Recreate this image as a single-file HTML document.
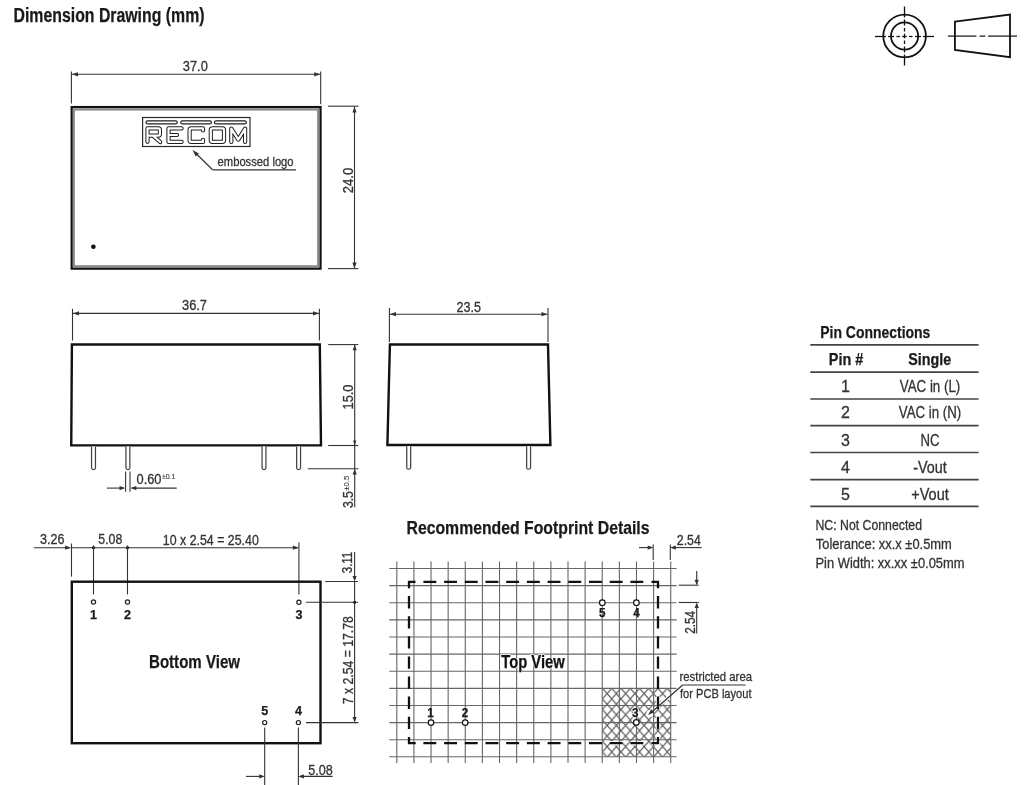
<!DOCTYPE html>
<html><head><meta charset="utf-8"><style>
html,body{margin:0;padding:0;background:#fff;}
body{width:1024px;height:785px;overflow:hidden;}
svg{display:block;will-change:transform;font-family:"Liberation Sans",sans-serif;}
</style></head><body>
<svg width="1024" height="785" viewBox="0 0 1024 785">
<text x="13.5" y="21.5" font-size="20" font-weight="bold" fill="#1a1a1a" text-anchor="start" textLength="191" lengthAdjust="spacingAndGlyphs"  stroke="#1a1a1a" stroke-width="0.25">Dimension Drawing (mm)</text>
<g stroke="#111" fill="none">
<circle cx="904.6" cy="36" r="21.3" stroke-width="1.8"/>
<circle cx="904.6" cy="36" r="13.6" stroke-width="1.8"/>
<line x1="904.5" y1="54.5" x2="904.5" y2="65.5" stroke-width="1.3"/>
<line x1="923.0" y1="36.5" x2="934.0" y2="36.5" stroke-width="1.3"/>
<line x1="904.5" y1="46.5" x2="904.5" y2="52.5" stroke-width="1.3"/>
<line x1="915.0" y1="36.5" x2="921.0" y2="36.5" stroke-width="1.3"/>
<line x1="904.5" y1="40.5" x2="904.5" y2="44" stroke-width="1.3"/>
<line x1="909.0" y1="36.5" x2="912.5" y2="36.5" stroke-width="1.3"/>
<line x1="904.5" y1="33.7" x2="904.5" y2="38.3" stroke-width="1.3"/>
<line x1="902.2" y1="36.5" x2="906.8" y2="36.5" stroke-width="1.3"/>
<line x1="904.5" y1="28" x2="904.5" y2="31.5" stroke-width="1.3"/>
<line x1="896.5" y1="36.5" x2="900.0" y2="36.5" stroke-width="1.3"/>
<line x1="904.5" y1="19.5" x2="904.5" y2="25.5" stroke-width="1.3"/>
<line x1="888.0" y1="36.5" x2="894.0" y2="36.5" stroke-width="1.3"/>
<line x1="904.5" y1="6.5" x2="904.5" y2="17.5" stroke-width="1.3"/>
<line x1="875.0" y1="36.5" x2="886.0" y2="36.5" stroke-width="1.3"/>
<polygon points="954.9,21.6 1010,14.5 1010,57.2 954.9,49.9" stroke-width="1.8" stroke-linejoin="miter"/>
<line x1="947.9" y1="36.1" x2="976.4" y2="36.1" stroke-width="1.2"/>
<line x1="979.5" y1="36.1" x2="985.4" y2="36.1" stroke-width="1.2"/>
<line x1="988.1" y1="36.1" x2="1017" y2="36.1" stroke-width="1.2"/>
</g>
<line x1="71.4" y1="71.4" x2="71.4" y2="103.6" stroke="#333" stroke-width="1.1" />
<line x1="320.7" y1="71.4" x2="320.7" y2="104.2" stroke="#333" stroke-width="1.1" />
<line x1="72" y1="74.3" x2="320.2" y2="74.3" stroke="#333" stroke-width="1.1" />
<polygon points="72.00,74.30 78.00,72.20 78.00,76.40" fill="#333"/>
<polygon points="320.20,74.30 314.20,76.40 314.20,72.20" fill="#333"/>
<text x="195.3" y="71.4" font-size="14.5" font-weight="normal" fill="#333" text-anchor="middle" textLength="25" lengthAdjust="spacingAndGlyphs"  stroke="#333" stroke-width="0.3">37.0</text>
<rect x="71.7" y="107.1" width="248.8" height="161.5" fill="none" stroke="#111" stroke-width="2.3"/>
<rect x="73.8" y="109.5" width="244.4" height="156.8" fill="none" stroke="#8a8a8a" stroke-width="2.2"/>
<line x1="328" y1="106.2" x2="358.4" y2="106.2" stroke="#333" stroke-width="1.1" />
<line x1="328" y1="268.6" x2="358.4" y2="268.6" stroke="#333" stroke-width="1.1" />
<line x1="354.5" y1="106.5" x2="354.5" y2="268.4" stroke="#333" stroke-width="1.1" />
<polygon points="354.50,106.50 356.60,112.50 352.40,112.50" fill="#333"/>
<polygon points="354.50,268.40 352.40,262.40 356.60,262.40" fill="#333"/>
<text transform="translate(352.6,180.5) rotate(-90)" x="0" y="0" font-size="14.5" font-weight="normal" fill="#333" text-anchor="middle" textLength="25.5" lengthAdjust="spacingAndGlyphs"  stroke="#333" stroke-width="0.3">24.0</text>
<g fill="none" stroke="#1e1e1e">
<rect x="142.6" y="117.5" width="107.4" height="29" stroke-width="1.2" stroke="#2a2a2a"/>
<line x1="147.5" y1="122.4" x2="175.7" y2="122.4" stroke-width="4.2" stroke-linecap="round"/>
<line x1="147.5" y1="122.4" x2="175.7" y2="122.4" stroke-width="1.9" stroke="#fff" stroke-linecap="round"/>
<line x1="182.3" y1="122.4" x2="209.8" y2="122.4" stroke-width="4.2" stroke-linecap="round"/>
<line x1="182.3" y1="122.4" x2="209.8" y2="122.4" stroke-width="1.9" stroke="#fff" stroke-linecap="round"/>
<line x1="216" y1="122.4" x2="244.8" y2="122.4" stroke-width="4.2" stroke-linecap="round"/>
<line x1="216" y1="122.4" x2="244.8" y2="122.4" stroke-width="1.9" stroke="#fff" stroke-linecap="round"/>
<path d="M147.5,141.8 L147.5,128.4 L158.3,128.4 Q159.9,128.4 159.9,130 L159.9,134.1 Q159.9,135.7 158.3,135.7 L147.5,135.7 M153.2,135.9 L160.2,142" stroke-width="4.2" stroke-linecap="round" stroke-linejoin="round"/>
<path d="M181.6,128.4 L168.5,128.4 L168.5,141.9 L181.6,141.9 M168.5,135 L177,135" stroke-width="4.2" stroke-linecap="round" stroke-linejoin="round"/>
<path d="M203,130.5 L203,128.4 L191.2,128.4 Q189.6,128.4 189.6,130 L189.6,140.3 Q189.6,141.9 191.2,141.9 L203,141.9 L203,139.8" stroke-width="4.2" stroke-linecap="round" stroke-linejoin="round"/>
<path d="M212.4,128.4 L222.4,128.4 Q224,128.4 224,130 L224,140.3 Q224,141.9 222.4,141.9 L212.4,141.9 Q210.8,141.9 210.8,140.3 L210.8,130 Q210.8,128.4 212.4,128.4 Z" stroke-width="4.2" stroke-linecap="round" stroke-linejoin="round"/>
<path d="M231.3,141.9 L231.3,128.6 L238.3,139.6 L245.1,128.6 L245.1,141.9" stroke-width="4.2" stroke-linecap="round" stroke-linejoin="round"/>
<path d="M147.5,141.8 L147.5,128.4 L158.3,128.4 Q159.9,128.4 159.9,130 L159.9,134.1 Q159.9,135.7 158.3,135.7 L147.5,135.7 M153.2,135.9 L160.2,142" stroke-width="2.2" stroke="#fff" stroke-linecap="round" stroke-linejoin="round"/>
<path d="M181.6,128.4 L168.5,128.4 L168.5,141.9 L181.6,141.9 M168.5,135 L177,135" stroke-width="2.2" stroke="#fff" stroke-linecap="round" stroke-linejoin="round"/>
<path d="M203,130.5 L203,128.4 L191.2,128.4 Q189.6,128.4 189.6,130 L189.6,140.3 Q189.6,141.9 191.2,141.9 L203,141.9 L203,139.8" stroke-width="2.2" stroke="#fff" stroke-linecap="round" stroke-linejoin="round"/>
<path d="M212.4,128.4 L222.4,128.4 Q224,128.4 224,130 L224,140.3 Q224,141.9 222.4,141.9 L212.4,141.9 Q210.8,141.9 210.8,140.3 L210.8,130 Q210.8,128.4 212.4,128.4 Z" stroke-width="2.2" stroke="#fff" stroke-linecap="round" stroke-linejoin="round"/>
<path d="M231.3,141.9 L231.3,128.6 L238.3,139.6 L245.1,128.6 L245.1,141.9" stroke-width="2.2" stroke="#fff" stroke-linecap="round" stroke-linejoin="round"/>
</g>
<text x="217.6" y="166.1" font-size="13.2" font-weight="normal" fill="#333" text-anchor="start" textLength="76" lengthAdjust="spacingAndGlyphs"  stroke="#333" stroke-width="0.3">embossed logo</text>
<line x1="212.6" y1="169.8" x2="296" y2="169.8" stroke="#333" stroke-width="1.2" />
<line x1="212.6" y1="169.8" x2="195.5" y2="153" stroke="#333" stroke-width="1.2" />
<polygon points="192.40,150.00 198.91,153.39 195.79,156.51" fill="#333"/>
<circle cx="93.4" cy="246.7" r="2.3" fill="#111"/>
<line x1="72.5" y1="308.75" x2="72.5" y2="340.6" stroke="#333" stroke-width="1.1" />
<line x1="319.4" y1="308.75" x2="319.4" y2="340.6" stroke="#333" stroke-width="1.1" />
<line x1="73" y1="313.4" x2="319" y2="313.4" stroke="#333" stroke-width="1.1" />
<polygon points="73.00,313.40 79.00,311.30 79.00,315.50" fill="#333"/>
<polygon points="319.00,313.40 313.00,315.50 313.00,311.30" fill="#333"/>
<text x="194.5" y="310.3" font-size="14.5" font-weight="normal" fill="#333" text-anchor="middle" textLength="25" lengthAdjust="spacingAndGlyphs"  stroke="#333" stroke-width="0.3">36.7</text>
<polygon points="71.9,344.5 319.8,344.5 321,445.4 71.25,445.4" fill="none" stroke="#111" stroke-width="2.4"/>
<path d="M91.55,446.6 L91.55,468.0 Q91.55,469.5 93.5,469.5 Q95.45,469.5 95.45,468.0 L95.45,446.6" fill="#fff" stroke="#444" stroke-width="1.25"/>
<path d="M125.95,446.6 L125.95,468.0 Q125.95,469.5 127.9,469.5 Q129.85,469.5 129.85,468.0 L129.85,446.6" fill="#fff" stroke="#444" stroke-width="1.25"/>
<path d="M262.05,446.6 L262.05,468.0 Q262.05,469.5 264,469.5 Q265.95,469.5 265.95,468.0 L265.95,446.6" fill="#fff" stroke="#444" stroke-width="1.25"/>
<path d="M296.65000000000003,446.6 L296.65000000000003,468.0 Q296.65000000000003,469.5 298.6,469.5 Q300.55,469.5 300.55,468.0 L300.55,446.6" fill="#fff" stroke="#444" stroke-width="1.25"/>
<line x1="328.2" y1="344.6" x2="358.2" y2="344.6" stroke="#333" stroke-width="1.1" />
<line x1="328.2" y1="445.5" x2="358.2" y2="445.5" stroke="#333" stroke-width="1.1" />
<line x1="307.8" y1="468.8" x2="358.2" y2="468.8" stroke="#333" stroke-width="1.1" />
<line x1="354.7" y1="345" x2="354.7" y2="507.3" stroke="#333" stroke-width="1.1" />
<polygon points="354.70,344.80 356.80,350.30 352.60,350.30" fill="#333"/>
<polygon points="354.70,445.50 353.10,440.50 356.30,440.50" fill="#333"/>
<polygon points="354.70,469.00 356.80,474.50 352.60,474.50" fill="#333"/>
<text transform="translate(352.8,397) rotate(-90)" x="0" y="0" font-size="14.5" font-weight="normal" fill="#333" text-anchor="middle" textLength="25" lengthAdjust="spacingAndGlyphs"  stroke="#333" stroke-width="0.3">15.0</text>
<text transform="translate(353,499.6) rotate(-90)" x="0" y="0" font-size="14.5" font-weight="normal" fill="#333" text-anchor="middle" textLength="17" lengthAdjust="spacingAndGlyphs"  stroke="#333" stroke-width="0.3">3.5</text>
<text transform="translate(348.6,483.3) rotate(-90)" x="0" y="0" font-size="7" font-weight="normal" fill="#333" text-anchor="middle" textLength="15" lengthAdjust="spacingAndGlyphs"  stroke="#333" stroke-width="0.1">±0.5</text>
<line x1="125.6" y1="471.5" x2="125.6" y2="491.7" stroke="#333" stroke-width="1.1" />
<line x1="130" y1="471.5" x2="130" y2="491.7" stroke="#333" stroke-width="1.1" />
<line x1="106.9" y1="488.1" x2="124" y2="488.1" stroke="#333" stroke-width="1.1" />
<polygon points="125.00,488.10 119.50,490.20 119.50,486.00" fill="#333"/>
<line x1="131.5" y1="488.1" x2="176.7" y2="488.1" stroke="#333" stroke-width="1.1" />
<polygon points="130.80,488.10 136.30,486.00 136.30,490.20" fill="#333"/>
<text x="136.5" y="484.2" font-size="14.5" font-weight="normal" fill="#333" text-anchor="start" textLength="25" lengthAdjust="spacingAndGlyphs"  stroke="#333" stroke-width="0.3">0.60</text>
<text x="162" y="479.3" font-size="7" font-weight="normal" fill="#333" text-anchor="start" textLength="13.5" lengthAdjust="spacingAndGlyphs"  stroke="#333" stroke-width="0.1">±0.1</text>
<line x1="389.4" y1="308" x2="389.4" y2="342" stroke="#333" stroke-width="1.1" />
<line x1="548" y1="308" x2="548" y2="342" stroke="#333" stroke-width="1.1" />
<line x1="390" y1="314.2" x2="547.5" y2="314.2" stroke="#333" stroke-width="1.1" />
<polygon points="390.00,314.20 396.00,312.10 396.00,316.30" fill="#333"/>
<polygon points="547.50,314.20 541.50,316.30 541.50,312.10" fill="#333"/>
<text x="468.7" y="311.8" font-size="14.5" font-weight="normal" fill="#333" text-anchor="middle" textLength="24.5" lengthAdjust="spacingAndGlyphs"  stroke="#333" stroke-width="0.3">23.5</text>
<polygon points="389.9,344.5 548,344.5 550.4,445 387.4,445" fill="none" stroke="#111" stroke-width="2.4"/>
<path d="M406.75,446.2 L406.75,467.7 Q406.75,469.2 408.7,469.2 Q410.65,469.2 410.65,467.7 L410.65,446.2" fill="#fff" stroke="#444" stroke-width="1.25"/>
<path d="M526.65,446.2 L526.65,467.7 Q526.65,469.2 528.6,469.2 Q530.5500000000001,469.2 530.5500000000001,467.7 L530.5500000000001,446.2" fill="#fff" stroke="#444" stroke-width="1.25"/>
<text x="820.3" y="337.6" font-size="17" font-weight="bold" fill="#1a1a1a" text-anchor="start" textLength="110" lengthAdjust="spacingAndGlyphs"  stroke="#1a1a1a" stroke-width="0.25">Pin Connections</text>
<line x1="810.3" y1="344.9" x2="978.6" y2="344.9" stroke="#444" stroke-width="1.7" />
<line x1="810.3" y1="372.1" x2="978.6" y2="372.1" stroke="#444" stroke-width="1.7" />
<line x1="810.3" y1="399" x2="978.6" y2="399" stroke="#444" stroke-width="1.7" />
<line x1="810.3" y1="425.7" x2="978.6" y2="425.7" stroke="#444" stroke-width="1.7" />
<line x1="810.3" y1="452.5" x2="978.6" y2="452.5" stroke="#444" stroke-width="1.7" />
<line x1="810.3" y1="479.7" x2="978.6" y2="479.7" stroke="#444" stroke-width="1.7" />
<line x1="810.3" y1="506.4" x2="978.6" y2="506.4" stroke="#444" stroke-width="1.7" />
<text x="846" y="365.1" font-size="16.5" font-weight="bold" fill="#1a1a1a" text-anchor="middle" textLength="34.5" lengthAdjust="spacingAndGlyphs"  stroke="#1a1a1a" stroke-width="0.25">Pin #</text>
<text x="929.8" y="365.1" font-size="16.5" font-weight="bold" fill="#1a1a1a" text-anchor="middle" textLength="43" lengthAdjust="spacingAndGlyphs"  stroke="#1a1a1a" stroke-width="0.25">Single</text>
<text x="845.5" y="391.5" font-size="16" font-weight="normal" fill="#333" text-anchor="middle"  stroke="#333" stroke-width="0.3">1</text>
<text x="930" y="391.5" font-size="16" font-weight="normal" fill="#333" text-anchor="middle" textLength="60.5" lengthAdjust="spacingAndGlyphs"  stroke="#333" stroke-width="0.3">VAC in (L)</text>
<text x="845.5" y="418.4" font-size="16" font-weight="normal" fill="#333" text-anchor="middle"  stroke="#333" stroke-width="0.3">2</text>
<text x="930" y="418.4" font-size="16" font-weight="normal" fill="#333" text-anchor="middle" textLength="62.5" lengthAdjust="spacingAndGlyphs"  stroke="#333" stroke-width="0.3">VAC in (N)</text>
<text x="845.5" y="446.2" font-size="16" font-weight="normal" fill="#333" text-anchor="middle"  stroke="#333" stroke-width="0.3">3</text>
<text x="930" y="446.2" font-size="16" font-weight="normal" fill="#333" text-anchor="middle" textLength="19" lengthAdjust="spacingAndGlyphs"  stroke="#333" stroke-width="0.3">NC</text>
<text x="845.5" y="473" font-size="16" font-weight="normal" fill="#333" text-anchor="middle"  stroke="#333" stroke-width="0.3">4</text>
<text x="930" y="473" font-size="16" font-weight="normal" fill="#333" text-anchor="middle" textLength="33.5" lengthAdjust="spacingAndGlyphs"  stroke="#333" stroke-width="0.3">-Vout</text>
<text x="845.5" y="499.7" font-size="16" font-weight="normal" fill="#333" text-anchor="middle"  stroke="#333" stroke-width="0.3">5</text>
<text x="930" y="499.7" font-size="16" font-weight="normal" fill="#333" text-anchor="middle" textLength="37.5" lengthAdjust="spacingAndGlyphs"  stroke="#333" stroke-width="0.3">+Vout</text>
<text x="815.5" y="530.3" font-size="14.5" font-weight="normal" fill="#333" text-anchor="start" textLength="106.5" lengthAdjust="spacingAndGlyphs"  stroke="#333" stroke-width="0.3">NC: Not Connected</text>
<text x="815.8" y="549.4" font-size="14.5" font-weight="normal" fill="#333" text-anchor="start" textLength="136" lengthAdjust="spacingAndGlyphs"  stroke="#333" stroke-width="0.3">Tolerance: xx.x ±0.5mm</text>
<text x="815.5" y="567.6" font-size="14.5" font-weight="normal" fill="#333" text-anchor="start" textLength="149" lengthAdjust="spacingAndGlyphs"  stroke="#333" stroke-width="0.3">Pin Width: xx.xx ±0.05mm</text>
<line x1="33.9" y1="547.7" x2="70" y2="547.7" stroke="#333" stroke-width="1.1" />
<polygon points="71.10,547.70 65.10,549.80 65.10,545.60" fill="#333"/>
<line x1="71.5" y1="547.7" x2="298" y2="547.7" stroke="#333" stroke-width="1.1" />
<polygon points="298.90,547.70 292.90,549.80 292.90,545.60" fill="#333"/>
<circle cx="93.5" cy="547.7" r="1.6" fill="#222"/>
<circle cx="127.5" cy="547.7" r="1.6" fill="#222"/>
<line x1="71.5" y1="543.5" x2="71.5" y2="576.6" stroke="#333" stroke-width="1.1" />
<line x1="93.5" y1="545.4" x2="93.5" y2="594.4" stroke="#333" stroke-width="1.1" />
<line x1="127.5" y1="545.4" x2="127.5" y2="594.4" stroke="#333" stroke-width="1.1" />
<line x1="298.9" y1="542.6" x2="298.9" y2="594.6" stroke="#333" stroke-width="1.1" />
<text x="52.2" y="544.4" font-size="14.5" font-weight="normal" fill="#333" text-anchor="middle" textLength="24.5" lengthAdjust="spacingAndGlyphs"  stroke="#333" stroke-width="0.3">3.26</text>
<text x="110.3" y="544.4" font-size="14.5" font-weight="normal" fill="#333" text-anchor="middle" textLength="24" lengthAdjust="spacingAndGlyphs"  stroke="#333" stroke-width="0.3">5.08</text>
<text x="210.8" y="544.9" font-size="14.5" font-weight="normal" fill="#333" text-anchor="middle" textLength="96" lengthAdjust="spacingAndGlyphs"  stroke="#333" stroke-width="0.3">10 x 2.54 = 25.40</text>
<rect x="71.8" y="581.7" width="248.7" height="161.5" fill="none" stroke="#111" stroke-width="2.4"/>
<circle cx="93.5" cy="602" r="2.1" fill="#fff" stroke="#222" stroke-width="1.2"/>
<circle cx="127.5" cy="602" r="2.1" fill="#fff" stroke="#222" stroke-width="1.2"/>
<circle cx="298.9" cy="602.3" r="2.1" fill="#fff" stroke="#222" stroke-width="1.2"/>
<circle cx="264.7" cy="722.6" r="2.1" fill="#fff" stroke="#222" stroke-width="1.2"/>
<circle cx="298.4" cy="722.6" r="2.1" fill="#fff" stroke="#222" stroke-width="1.2"/>
<text x="93.5" y="618.6" font-size="13.5" font-weight="bold" fill="#1a1a1a" text-anchor="middle" textLength="7" lengthAdjust="spacingAndGlyphs"  stroke="#1a1a1a" stroke-width="0.25">1</text>
<text x="127.5" y="618.6" font-size="13.5" font-weight="bold" fill="#1a1a1a" text-anchor="middle" textLength="7" lengthAdjust="spacingAndGlyphs"  stroke="#1a1a1a" stroke-width="0.25">2</text>
<text x="298.9" y="618.7" font-size="13.5" font-weight="bold" fill="#1a1a1a" text-anchor="middle" textLength="7" lengthAdjust="spacingAndGlyphs"  stroke="#1a1a1a" stroke-width="0.25">3</text>
<text x="264.7" y="714.9" font-size="13.5" font-weight="bold" fill="#1a1a1a" text-anchor="middle" textLength="7" lengthAdjust="spacingAndGlyphs"  stroke="#1a1a1a" stroke-width="0.25">5</text>
<text x="298.4" y="714.9" font-size="13.5" font-weight="bold" fill="#1a1a1a" text-anchor="middle" textLength="7" lengthAdjust="spacingAndGlyphs"  stroke="#1a1a1a" stroke-width="0.25">4</text>
<text x="194.5" y="667.7" font-size="19" font-weight="bold" fill="#1a1a1a" text-anchor="middle" textLength="91" lengthAdjust="spacingAndGlyphs"  stroke="#1a1a1a" stroke-width="0.25">Bottom View</text>
<line x1="325.1" y1="581.5" x2="358" y2="581.5" stroke="#333" stroke-width="1.1" />
<line x1="305.9" y1="602.3" x2="358" y2="602.3" stroke="#333" stroke-width="1.1" />
<line x1="306" y1="722.6" x2="358.5" y2="722.6" stroke="#333" stroke-width="1.1" />
<line x1="354.6" y1="552" x2="354.6" y2="580" stroke="#333" stroke-width="1.1" />
<polygon points="354.60,581.50 352.50,576.00 356.70,576.00" fill="#333"/>
<line x1="354.6" y1="581.5" x2="354.6" y2="721" stroke="#333" stroke-width="1.1" />
<polygon points="354.60,722.60 352.50,717.10 356.70,717.10" fill="#333"/>
<circle cx="354.6" cy="602.3" r="1.6" fill="#222"/>
<text transform="translate(352.1,562.5) rotate(-90)" x="0" y="0" font-size="14.5" font-weight="normal" fill="#333" text-anchor="middle" textLength="21.5" lengthAdjust="spacingAndGlyphs"  stroke="#333" stroke-width="0.3">3.11</text>
<text transform="translate(352.6,660.2) rotate(-90)" x="0" y="0" font-size="14.5" font-weight="normal" fill="#333" text-anchor="middle" textLength="88" lengthAdjust="spacingAndGlyphs"  stroke="#333" stroke-width="0.3">7 x 2.54 = 17.78</text>
<line x1="264.7" y1="727.4" x2="264.7" y2="785" stroke="#333" stroke-width="1.1" />
<line x1="298.4" y1="727.4" x2="298.4" y2="785" stroke="#333" stroke-width="1.1" />
<line x1="246" y1="776.4" x2="263" y2="776.4" stroke="#333" stroke-width="1.1" />
<polygon points="264.70,776.40 259.20,778.50 259.20,774.30" fill="#333"/>
<line x1="300" y1="776.4" x2="332.6" y2="776.4" stroke="#333" stroke-width="1.1" />
<polygon points="298.40,776.40 303.90,774.30 303.90,778.50" fill="#333"/>
<text x="320.5" y="774.5" font-size="14.5" font-weight="normal" fill="#333" text-anchor="middle" textLength="24.5" lengthAdjust="spacingAndGlyphs"  stroke="#333" stroke-width="0.3">5.08</text>
<text x="528" y="534.3" font-size="19" font-weight="bold" fill="#1a1a1a" text-anchor="middle" textLength="243" lengthAdjust="spacingAndGlyphs"  stroke="#1a1a1a" stroke-width="0.25">Recommended Footprint Details</text>
<defs><pattern id="hatch" patternUnits="userSpaceOnUse" x="602.5" y="688.3" width="9.25" height="10.6"><path d="M-1,-1.146 L10.25,11.746 M10.25,-1.146 L-1,11.746" stroke="#5e5e5e" stroke-width="1.15"/></pattern></defs>
<rect x="602.3" y="688.3" width="68.5" height="68.5" fill="url(#hatch)"/>
<clipPath id="hclip"><rect x="602.3" y="688.3" width="68.5" height="68.5"/></clipPath>
<g clip-path="url(#hclip)" stroke="#fff" fill="none">
<line x1="423.4" y1="743.2" x2="644" y2="743.2" stroke-width="4.6" stroke-dasharray="12.9,7.8"/>
<path d="M651.5,743.2 L658,743.2 L658,737" stroke-width="4.6"/>
<line x1="658" y1="596.1" x2="658" y2="730" stroke-width="4.6" stroke-dasharray="12.3,7.8"/>
<line x1="682.7" y1="685" x2="649" y2="714.2" stroke-width="3.2"/>
<circle cx="650" cy="713.5" r="3.2" fill="#fff"/>
<text x="635.2" y="717" font-size="12" font-weight="bold" text-anchor="middle" textLength="6.5" lengthAdjust="spacingAndGlyphs" stroke-width="2" fill="#fff">3</text>
</g>
<g stroke="#666" stroke-width="1.1">
<line x1="396.80" y1="561.5" x2="396.80" y2="763" />
<line x1="413.92" y1="561.5" x2="413.92" y2="763" />
<line x1="431.04" y1="561.5" x2="431.04" y2="763" />
<line x1="448.16" y1="561.5" x2="448.16" y2="763" />
<line x1="465.28" y1="561.5" x2="465.28" y2="763" />
<line x1="482.40" y1="561.5" x2="482.40" y2="763" />
<line x1="499.52" y1="561.5" x2="499.52" y2="763" />
<line x1="516.64" y1="561.5" x2="516.64" y2="763" />
<line x1="533.76" y1="561.5" x2="533.76" y2="763" />
<line x1="550.88" y1="561.5" x2="550.88" y2="763" />
<line x1="568.00" y1="561.5" x2="568.00" y2="763" />
<line x1="585.12" y1="561.5" x2="585.12" y2="763" />
<line x1="602.24" y1="561.5" x2="602.24" y2="763" />
<line x1="619.36" y1="561.5" x2="619.36" y2="763" />
<line x1="636.48" y1="561.5" x2="636.48" y2="763" />
<line x1="653.60" y1="561.5" x2="653.60" y2="763" />
<line x1="670.72" y1="561.5" x2="670.72" y2="763" />
<line x1="389.3" y1="568.50" x2="676.6" y2="568.50" />
<line x1="389.3" y1="585.62" x2="676.6" y2="585.62" />
<line x1="389.3" y1="602.74" x2="676.6" y2="602.74" />
<line x1="389.3" y1="619.86" x2="676.6" y2="619.86" />
<line x1="389.3" y1="636.98" x2="676.6" y2="636.98" />
<line x1="389.3" y1="654.10" x2="676.6" y2="654.10" />
<line x1="389.3" y1="671.22" x2="676.6" y2="671.22" />
<line x1="389.3" y1="688.34" x2="676.6" y2="688.34" />
<line x1="389.3" y1="705.46" x2="676.6" y2="705.46" />
<line x1="389.3" y1="722.58" x2="676.6" y2="722.58" />
<line x1="389.3" y1="739.70" x2="676.6" y2="739.70" />
<line x1="389.3" y1="756.82" x2="676.6" y2="756.82" />
</g>
<path d="M409,588.3 L409,581.9 L415.5,581.9" fill="none" stroke="#111" stroke-width="2.3"/>
<path d="M651.5,581.9 L658,581.9 L658,588.3" fill="none" stroke="#111" stroke-width="2.3"/>
<path d="M409,737 L409,743.2 L415.7,743.2" fill="none" stroke="#111" stroke-width="2.3"/>
<path d="M651.5,743.2 L658,743.2 L658,737" fill="none" stroke="#111" stroke-width="2.3"/>
<line x1="423.4" y1="581.9" x2="644" y2="581.9" stroke="#111" stroke-width="2.3" stroke-dasharray="12.9,7.8"/>
<line x1="423.4" y1="743.2" x2="644" y2="743.2" stroke="#111" stroke-width="2.3" stroke-dasharray="12.9,7.8"/>
<line x1="409" y1="596.1" x2="409" y2="730" stroke="#111" stroke-width="2.3" stroke-dasharray="12.3,7.8"/>
<line x1="658" y1="596.1" x2="658" y2="730" stroke="#111" stroke-width="2.3" stroke-dasharray="12.3,7.8"/>
<circle cx="431" cy="722.6" r="2.8" fill="#fff" stroke="#111" stroke-width="1.2"/>
<circle cx="465.2" cy="722.6" r="2.8" fill="#fff" stroke="#111" stroke-width="1.2"/>
<circle cx="636.3" cy="722.4" r="2.8" fill="#fff" stroke="#111" stroke-width="1.2"/>
<circle cx="602.3" cy="602.7" r="2.8" fill="#fff" stroke="#111" stroke-width="1.2"/>
<circle cx="636.4" cy="602.7" r="2.8" fill="#fff" stroke="#111" stroke-width="1.2"/>
<text x="430.5" y="716.8" font-size="12" font-weight="bold" fill="#1a1a1a" text-anchor="middle" textLength="6.5" lengthAdjust="spacingAndGlyphs"  stroke="#1a1a1a" stroke-width="0.25">1</text>
<text x="465" y="716.8" font-size="12" font-weight="bold" fill="#1a1a1a" text-anchor="middle" textLength="6.5" lengthAdjust="spacingAndGlyphs"  stroke="#1a1a1a" stroke-width="0.25">2</text>
<text x="635.2" y="717" font-size="12" font-weight="bold" fill="#1a1a1a" text-anchor="middle" textLength="6.5" lengthAdjust="spacingAndGlyphs"  stroke="#1a1a1a" stroke-width="0.25">3</text>
<text x="602.3" y="616.9" font-size="12" font-weight="bold" fill="#1a1a1a" text-anchor="middle" textLength="6.5" lengthAdjust="spacingAndGlyphs"  stroke="#1a1a1a" stroke-width="0.25">5</text>
<text x="636.4" y="616.9" font-size="12" font-weight="bold" fill="#1a1a1a" text-anchor="middle" textLength="6.5" lengthAdjust="spacingAndGlyphs"  stroke="#1a1a1a" stroke-width="0.25">4</text>
<text x="533" y="667.9" font-size="19" font-weight="bold" fill="#fff" text-anchor="middle" textLength="63.5" lengthAdjust="spacingAndGlyphs"  stroke="#fff" stroke-width="1.6">Top View</text>
<text x="533" y="667.9" font-size="19" font-weight="bold" fill="#111" text-anchor="middle" textLength="63.5" lengthAdjust="spacingAndGlyphs"  stroke="#111" stroke-width="0.25">Top View</text>
<line x1="653.2" y1="544.6" x2="653.2" y2="560" stroke="#333" stroke-width="1.1" />
<line x1="670.3" y1="544.6" x2="670.3" y2="560" stroke="#333" stroke-width="1.1" />
<line x1="639" y1="547.6" x2="652" y2="547.6" stroke="#333" stroke-width="1.1" />
<polygon points="653.20,547.60 647.70,549.70 647.70,545.50" fill="#333"/>
<line x1="671.5" y1="547.6" x2="701.6" y2="547.6" stroke="#333" stroke-width="1.1" />
<polygon points="670.30,547.60 675.80,545.50 675.80,549.70" fill="#333"/>
<text x="688.8" y="545" font-size="14.5" font-weight="normal" fill="#333" text-anchor="middle" textLength="24" lengthAdjust="spacingAndGlyphs"  stroke="#333" stroke-width="0.3">2.54</text>
<line x1="678.7" y1="585.2" x2="698.7" y2="585.2" stroke="#333" stroke-width="1.1" />
<line x1="678.7" y1="602.5" x2="698.7" y2="602.5" stroke="#333" stroke-width="1.1" />
<line x1="696.7" y1="571" x2="696.7" y2="584" stroke="#333" stroke-width="1.1" />
<polygon points="696.70,585.20 694.60,579.70 698.80,579.70" fill="#333"/>
<line x1="696.7" y1="604" x2="696.7" y2="633.5" stroke="#333" stroke-width="1.1" />
<polygon points="696.70,602.50 698.80,608.00 694.60,608.00" fill="#333"/>
<text transform="translate(694.5,622.3) rotate(-90)" x="0" y="0" font-size="14.5" font-weight="normal" fill="#333" text-anchor="middle" textLength="23" lengthAdjust="spacingAndGlyphs"  stroke="#333" stroke-width="0.3">2.54</text>
<text x="679.5" y="680.6" font-size="13.5" font-weight="normal" fill="#333" text-anchor="start" textLength="72.5" lengthAdjust="spacingAndGlyphs"  stroke="#333" stroke-width="0.3">restricted area</text>
<text x="680" y="697.6" font-size="13.5" font-weight="normal" fill="#333" text-anchor="start" textLength="71.5" lengthAdjust="spacingAndGlyphs"  stroke="#333" stroke-width="0.3">for PCB layout</text>
<line x1="682.7" y1="685" x2="745.6" y2="685" stroke="#333" stroke-width="1.2" />
<line x1="682.7" y1="685" x2="651.5" y2="712.2" stroke="#333" stroke-width="1.2" />
<polygon points="648.10,714.90 651.18,709.30 654.07,712.62" fill="#333"/>
</svg>
</body></html>
